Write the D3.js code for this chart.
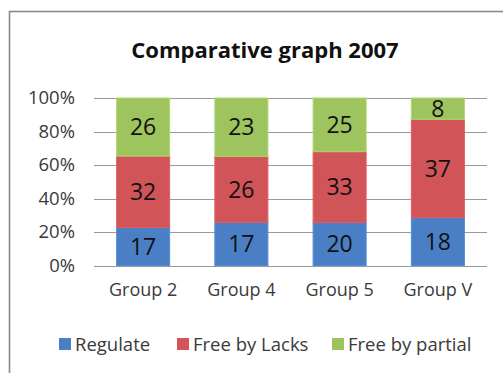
<!DOCTYPE html>
<html>
<head>
<meta charset="utf-8">
<script src="https://cdn.jsdelivr.net/npm/d3@7"></script>
<style>
  html, body { margin: 0; padding: 0; background: #fff; }
  svg { display: block; }
  text { font-family: "Open Sans", Lato, sans-serif; }
</style>
</head>
<body>
<svg id="chart" width="503" height="373"></svg>
<script>
// Chart data
const categories = ["Group 2", "Group 4", "Group 5", "Group V"];
const seriesNames = ["Regulate", "Free by Lacks", "Free by partial"];
const regulate = [17, 17, 20, 18];
const freeByLacks = [32, 26, 33, 37];
const freeByPartial = [26, 23, 25, 8];
const yTicks = [0, 0.2, 0.4, 0.6, 0.8, 1.0];
const seriesColors = ["#4A7FC6", "#D05458", "#9DC45F"];
const title = "Comparative graph 2007";

const svg = d3.select("#chart");
const W = 503, H = 373;

// outer chart frame (runs past the right and bottom edges)
svg.append("rect")
  .attr("x", 9.5).attr("y", 11.5)
  .attr("width", W + 10).attr("height", H + 10)
  .attr("fill", "#fff").attr("stroke", "#8a8a8a").attr("stroke-width", 1.6);

const plot = { left: 94, right: 487, top: 98, bottom: 265.5 };

// table of rows, one per category
const rows = categories.map((c, i) => ({
  category: c,
  "Regulate": regulate[i],
  "Free by Lacks": freeByLacks[i],
  "Free by partial": freeByPartial[i]
}));

const stacked = d3.stack()
  .keys(seriesNames)
  .offset(d3.stackOffsetExpand)(rows);

const x = d3.scaleBand()
  .domain(categories)
  .range([plot.left, plot.right])
  .paddingInner(0.46)
  .paddingOuter(0.23);

const y = d3.scaleLinear().domain([0, 1]).range([plot.bottom, plot.top]);
const color = d3.scaleOrdinal().domain(seriesNames).range(seriesColors);

// gridlines
svg.append("g")
  .selectAll("line")
  .data(yTicks)
  .join("line")
  .attr("x1", plot.left).attr("x2", plot.right)
  .attr("y1", d => Math.round(y(d)) + 0.5).attr("y2", d => Math.round(y(d)) + 0.5)
  .attr("stroke", "#9a9a9a").attr("stroke-width", 1);

// y axis labels
const yAxis = d3.axisLeft(y)
  .tickValues(yTicks)
  .tickFormat(d3.format(".0%"))
  .tickSize(0)
  .tickPadding(0);
const yg = svg.append("g")
  .attr("transform", `translate(${plot.left - 19},0)`)
  .call(yAxis);
yg.select(".domain").remove();
yg.selectAll("text")
  .attr("font-size", 18.5)
  .attr("fill", "#3a3a3a")
  .style("font-family", '"Open Sans", sans-serif');

// x axis labels
const xAxis = d3.axisBottom(x).tickSize(0).tickPadding(0);
const xg = svg.append("g")
  .attr("transform", `translate(0,${plot.bottom + 18})`)
  .call(xAxis);
xg.select(".domain").remove();
xg.selectAll("text")
  .attr("font-size", 18)
  .attr("fill", "#3a3a3a")
  .style("font-family", '"Open Sans", sans-serif');

// stacked bars
const layers = svg.append("g")
  .selectAll("g")
  .data(stacked)
  .join("g")
  .attr("fill", d => color(d.key));

layers.selectAll("rect")
  .data(d => d.map(p => ({ p, key: d.key })))
  .join("rect")
  .attr("x", d => x(d.p.data.category))
  .attr("width", x.bandwidth())
  .attr("y", d => y(d.p[1]))
  .attr("height", d => y(d.p[0]) - y(d.p[1]))
  .attr("stroke", d => d3.color(color(d.key)).brighter(0.3))
  .attr("stroke-width", 1);

// value labels
layers.selectAll("text")
  .data(d => d.map(p => ({ p, key: d.key })))
  .join("text")
  .attr("x", d => x(d.p.data.category) + x.bandwidth() / 2)
  .attr("y", d => (y(d.p[0]) + y(d.p[1])) / 2)
  .attr("dy", "0.36em")
  .attr("text-anchor", "middle")
  .attr("font-size", 23)
  .attr("fill", "#111")
  .text(d => d.p.data[d.key]);

// title
svg.append("text")
  .attr("x", 265).attr("y", 58)
  .attr("text-anchor", "middle")
  .attr("font-size", 22)
  .attr("font-weight", "bold")
  .attr("fill", "#111")
  .text(title);

// legend
const legendX = [59, 177, 332];
const legend = svg.append("g")
  .selectAll("g")
  .data(seriesNames)
  .join("g")
  .attr("transform", (d, i) => `translate(${legendX[i]},338)`);
legend.append("rect")
  .attr("width", 12).attr("height", 12)
  .attr("fill", d => color(d));
legend.append("text")
  .attr("x", 16).attr("y", 6)
  .attr("dy", "0.36em")
  .attr("font-size", 18.5)
  .attr("fill", "#3a3a3a")
  .text(d => d);
</script>
</body>
</html>
